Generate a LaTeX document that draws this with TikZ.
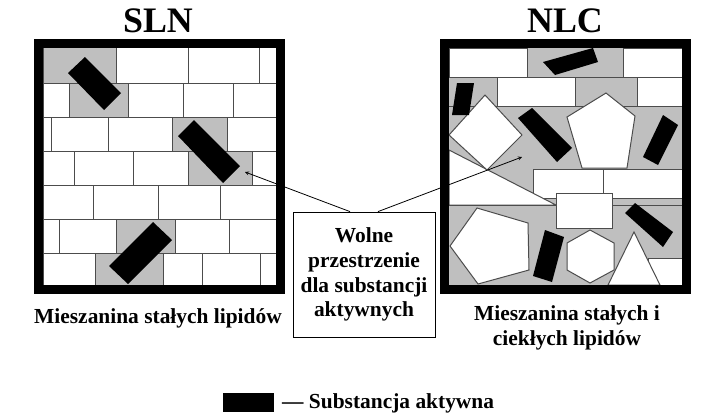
\documentclass[tikz,border=0pt]{standalone}
\usepackage{fontspec}
\setmainfont{Liberation Serif}
\begin{document}
\begin{tikzpicture}[
        x=1bp, y=-1bp,
        brick/.style={draw=black!70, line width=1pt, fill=white},
        hole/.style={fill=black!25},
        bar/.style={fill=black},
        frame/.style={draw, line width=9bp},
        label/.style={font=\bfseries\fontsize{21.5}{25}\selectfont, align=center, inner sep=0pt},
        title/.style={font=\bfseries\fontsize{36}{38}\selectfont, inner sep=0pt}
      ]
        \useasboundingbox (0,0) rectangle (717,418);

        % SLN
        \fill[white] (43,48) rectangle (276,285);
        \foreach \ya/\yb/\xs in {48/83/{43,116,188,259,276},
                                 83/117/{43,69,128,183,233,276},
                                 117/151/{43,51,108,172,227,276},
                                 151/185/{43,74,133,188,252,276},
                                 185/219/{43,93,158,220,276},
                                 219/253/{43,59,116,175,229,276},
                                 253/285/{43,95,163,202,260,276}}{
          \foreach \x in \xs { \draw[brick] (\x,\ya) -- (\x,\yb); }
          \draw[brick] (43,\yb) -- (276,\yb);
        }
        \fill[hole] (43.5,48) rectangle (115.5,82.5);
        \fill[hole] (69.5,83.5) rectangle (127.5,116.5);
        \fill[hole] (172.5,117.5) rectangle (226.5,150.5);
        \fill[hole] (188.5,151.5) rectangle (251.5,184.5);
        \fill[hole] (116.5,219.5) rectangle (174.5,252.5);
        \fill[hole] (95.5,253.5) rectangle (162.5,285);
        \fill[bar] (68,73) -- (85,57) -- (121,93) -- (104,110) -- cycle;
        \fill[bar] (178,136) -- (194,120) -- (240,166) -- (223,183) -- cycle;
        \fill[bar] (109,266) -- (153,222) -- (172,240) -- (128,284) -- cycle;
        \draw[frame] (38.5,43.5) rectangle (280.5,289.5);
        \node[title] (sln) at (158,21) {SLN};

        % NLC
        \fill[hole] (449,48) rectangle (682,285);
        \foreach \a/\b/\c/\d in {449/48/527/77, 623/48/682/77, 497/77/575/106,
                                 637/77/682/106, 533/169/603/198, 603/169/682/198,
                                 648/258/682/285}{
          \draw[brick] (\a,\b) rectangle (\c,\d);
        }
        \draw[brick] (449,77) -- (682,77);
        \draw[brick] (449,106) -- (682,106);
        \draw[brick] (449,150) -- (556,205) -- (449,205) -- cycle;
        \draw[brick] (449,205) -- (682,205);
        \draw[brick] (556,193) rectangle (612,228);
        \draw[brick] (485,95) -- (522,135) -- (487,170) -- (449,135) -- cycle;
        \draw[brick] (606,93) -- (635,116) -- (627,168) -- (582,168) -- (567,117) -- cycle;
        \draw[brick] (477,208) -- (528,223) -- (529,270) -- (478,284) -- (450,246) -- cycle;
        \draw[brick] (567,243) -- (590,230) -- (614,243) -- (614,270) -- (590,283) -- (567,270) -- cycle;
        \draw[brick] (634,232) -- (660,285) -- (608,285) -- cycle;
        \fill[bar] (543,62) -- (593,48) -- (598,62) -- (555,75) -- cycle;
        \fill[bar] (457,83) -- (474,83) -- (469,115) -- (452,115) -- cycle;
        \fill[bar] (518,118) -- (532,108) -- (572,148) -- (557,162) -- cycle;
        \fill[bar] (663,115) -- (678,125) -- (658,165) -- (643,157) -- cycle;
        \fill[bar] (545,230) -- (564,237) -- (552,282) -- (533,276) -- cycle;
        \fill[bar] (625,213) -- (635,203) -- (673,232) -- (663,247) -- cycle;
        \draw[frame] (444.5,43.5) rectangle (686.5,289.5);
        \node[title] (nlc) at (565,21) {NLC};

        % labels
        \node[label] (lsln) at (158,318) {Mieszanina stałych lipidów};
        \node[label] (lnlc) at (567,328) {Mieszanina stałych i\\ciekłych lipidów};
        \node[label, draw, line width=0.8pt, minimum width=142bp, minimum height=125bp]
          (free) at (364,274.5) {Wolne\\przestrzenie\\dla substancji\\aktywnych};
        \coordinate (hl) at (245,172);
        \coordinate (hr) at (522,157);
        \draw[line width=0.8pt, -stealth] ([xshift=-14bp]free.north) -- (hl);
        \draw[line width=0.8pt, -stealth] ([xshift=14bp]free.north) -- (hr);

        % legend
        \fill[bar] (223,393) rectangle (274,412) coordinate (key);
        \node[label, anchor=west] (keytext) at (282,403) {— Substancja aktywna};
      \end{tikzpicture}
\end{document}
